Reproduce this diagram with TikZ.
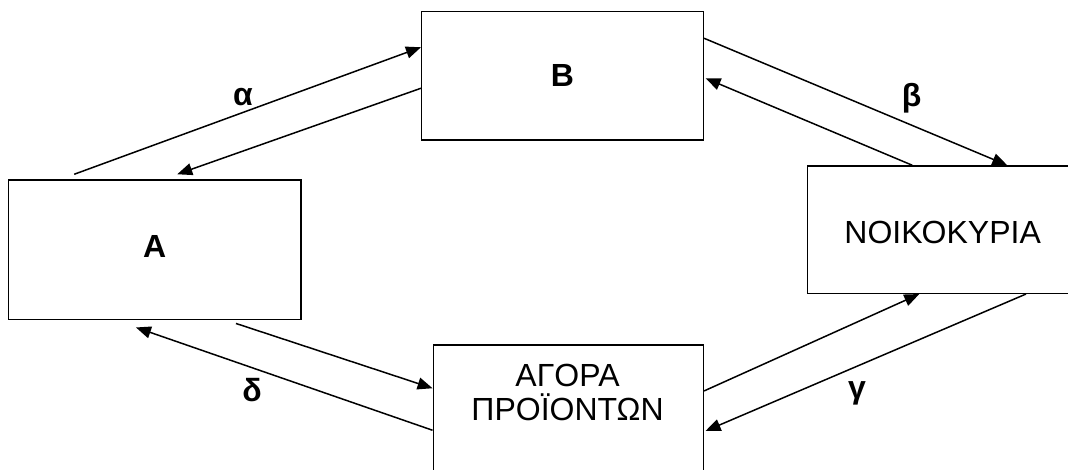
\documentclass[tikz,border=0pt]{standalone}
\usepackage{fontspec}
\setmainfont{Liberation Sans}
\usetikzlibrary{arrows.meta,calc}
\begin{document}
\begin{tikzpicture}[x=1pt,y=-1pt,
  box/.style={draw=black,line width=1.5pt,fill=white,inner sep=0pt,rectangle},
  flow/.style={draw=black,line width=1.5pt,-{Triangle[length=15pt,width=12pt]}},
  lbl/.style={font=\fontsize{32}{36}\selectfont\bfseries,inner sep=0pt},
  txt/.style={font=\fontsize{32}{34}\selectfont,inner sep=0pt,align=center}]
\useasboundingbox (0,0) rectangle (1068,469);
\clip (0,0) rectangle (1068,469);
\node[box,minimum width=281.6pt,minimum height=128.3pt] (B) at (562.5,75.85) {};
\node[box,minimum width=292.7pt,minimum height=139.3pt] (A) at (154.65,249.65) {};
\node[box,minimum width=270.7pt,minimum height=127.3pt] (N) at (942.65,229.65) {};
\node[box,minimum width=270pt,minimum height=200pt] (G) at (568.3,445) {};
\node[lbl] (Bt) at (B.center) {B};
\node[lbl] (At) at ($(A.center)+(0,-3)$) {A};
\node[txt] (Nt) at ($(N.center)+(0,3)$) {ΝΟΙΚΟΚΥΡΙΑ};
\node[txt] (Gt) at ($(G.north west)+(135,48)$) {ΑΓΟΡΑ\\ΠΡΟΪΟΝΤΩΝ};
% alpha
\draw[flow] ($(A.north west)+(66.7,-5)$) -- ($(B.north west)+(0,36.3)$);
\draw[flow] ($(B.north west)+(0,77.3)$) -- ($(A.north west)+(169.7,-5)$);
% beta
\draw[flow] ($(B.north east)+(0,27.3)$) -- ($(N.north west)+(200.7,0)$);
\draw[flow] ($(N.north west)+(105.7,0)$) -- ($(B.north east)+(1.5,67.3)$);
% gamma
\draw[flow] ($(G.north east)+(0,46.7)$) -- ($(N.south west)+(112.7,0)$);
\draw[flow] ($(N.south west)+(219.4,0)$) -- ($(G.north east)+(1.5,86.7)$);
% delta
\draw[flow] ($(A.south west)+(228.4,3.4)$) -- ($(G.north west)+(0,44)$);
\draw[flow] ($(G.north west)+(0,86)$) -- ($(A.south west)+(128.4,7.4)$);
\node[lbl] (al) at (243,97) {α};
\node[lbl] (be) at (911.7,98) {β};
\node[lbl] (ga) at (857,393) {γ};
\node[lbl] (de) at (252,390) {δ};
\end{tikzpicture}
\end{document}
